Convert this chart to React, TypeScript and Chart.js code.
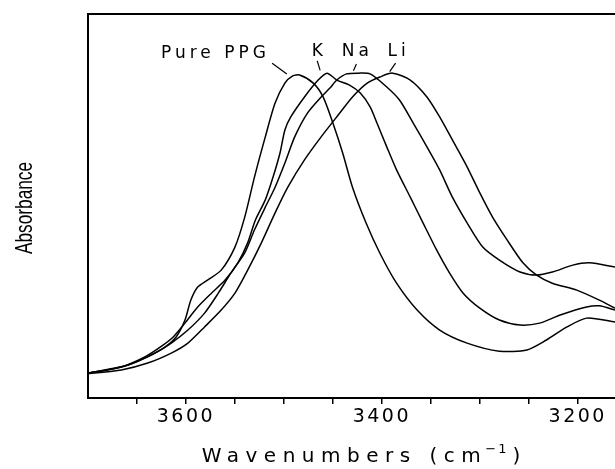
import React, { useEffect, useRef } from "react";
import { Chart, registerables } from "chart.js";

Chart.register(...registerables);

// ---- data (wavenumber in cm^-1, absorbance in arbitrary units) ----
const ppgWavenumber = [3700, 3680, 3659, 3639, 3621, 3610, 3601, 3595, 3588, 3578, 3564, 3550, 3540, 3530, 3519, 3509, 3499, 3491, 3484, 3470, 3460, 3450, 3440, 3430, 3416, 3402, 3385, 3364, 3341, 3313, 3280, 3252, 3232, 3211, 3191, 3162];
const ppgAbsorbance = [0.065, 0.073, 0.086, 0.107, 0.133, 0.159, 0.203, 0.255, 0.289, 0.307, 0.333, 0.393, 0.471, 0.576, 0.680, 0.768, 0.820, 0.839, 0.841, 0.820, 0.784, 0.716, 0.638, 0.549, 0.455, 0.377, 0.299, 0.229, 0.177, 0.143, 0.122, 0.125, 0.151, 0.185, 0.208, 0.198];

const kWavenumber = [3700, 3666, 3642, 3626, 3613, 3601, 3588, 3574, 3560, 3547, 3537, 3529, 3519, 3511, 3504, 3499, 3493, 3479, 3465, 3456, 3446, 3433, 3422, 3412, 3405, 3395, 3385, 3371, 3358, 3344, 3331, 3317, 3300, 3280, 3259, 3239, 3218, 3191, 3178, 3162];
const kAbsorbance = [0.065, 0.081, 0.107, 0.133, 0.159, 0.195, 0.237, 0.273, 0.307, 0.352, 0.404, 0.464, 0.516, 0.576, 0.638, 0.698, 0.732, 0.784, 0.828, 0.846, 0.828, 0.815, 0.794, 0.758, 0.716, 0.654, 0.594, 0.523, 0.456, 0.385, 0.326, 0.273, 0.234, 0.203, 0.190, 0.195, 0.216, 0.237, 0.240, 0.229];

const naWavenumber = [3700, 3659, 3632, 3615, 3598, 3581, 3567, 3554, 3540, 3530, 3519, 3509, 3499, 3489, 3476, 3462, 3453, 3446, 3436, 3424, 3412, 3395, 3382, 3368, 3354, 3341, 3328, 3313, 3297, 3280, 3259, 3242, 3226, 3205, 3188, 3162];
const naAbsorbance = [0.065, 0.086, 0.117, 0.143, 0.177, 0.221, 0.273, 0.326, 0.378, 0.438, 0.497, 0.549, 0.612, 0.680, 0.742, 0.784, 0.807, 0.828, 0.844, 0.846, 0.844, 0.810, 0.776, 0.716, 0.654, 0.594, 0.523, 0.456, 0.393, 0.359, 0.328, 0.320, 0.328, 0.346, 0.352, 0.341];

const liWavenumber = [3700, 3666, 3639, 3615, 3598, 3581, 3564, 3550, 3537, 3523, 3509, 3496, 3479, 3462, 3443, 3430, 3415, 3402, 3389, 3371, 3354, 3341, 3328, 3313, 3300, 3287, 3272, 3256, 3242, 3226, 3201, 3178, 3162];
const liAbsorbance = [0.063, 0.073, 0.091, 0.117, 0.143, 0.185, 0.229, 0.273, 0.333, 0.404, 0.482, 0.549, 0.620, 0.680, 0.742, 0.784, 0.820, 0.836, 0.846, 0.828, 0.784, 0.732, 0.672, 0.602, 0.534, 0.471, 0.411, 0.352, 0.320, 0.299, 0.281, 0.255, 0.234];

const seriesNames = ["Pure PPG", "K", "Na", "Li"];

const xTickValues = [3650, 3600, 3550, 3500, 3450, 3400, 3350, 3300, 3250, 3200];
const xTickLabels = [3600, 3400, 3200];

// curve label anchors in data units: text centre, leader start, leader end
const labelTextWavenumber = [3572, 3466, 3427, 3385];
const labelTextAbsorbance = [0.897, 0.903, 0.903, 0.903];
const leaderFromWavenumber = [3512, 3466, 3426, 3386];
const leaderFromAbsorbance = [0.872, 0.878, 0.870, 0.872];
const leaderToWavenumber = [3497, 3463, 3429, 3392];
const leaderToAbsorbance = [0.844, 0.853, 0.852, 0.850];

const toPoints = (xs: number[], ys: number[]) => xs.map((x, i) => ({ x, y: ys[i] }));

const decorPlugin = {
  id: "decor",
  beforeDraw(chart: any) {
    chart.ctx.letterSpacing = "2.5px";
  },
  beforeDatasetsDraw(chart: any) {
    chart.ctx.letterSpacing = "0px";
  },
  afterDraw(chart: any) {
    const ctx = chart.ctx as CanvasRenderingContext2D;
    const { left, top, right, bottom } = chart.chartArea;
    const xs = chart.scales.x;
    const ys = chart.scales.y;
    ctx.save();
    ctx.letterSpacing = "0px";
    // frame: left and top
    ctx.strokeStyle = "#000";
    ctx.lineWidth = 2;
    ctx.beginPath();
    ctx.moveTo(left, bottom);
    ctx.lineTo(left, top);
    ctx.lineTo(right + 2, top);
    ctx.stroke();

    // curve labels
    ctx.fillStyle = "#000";
    ctx.font = '17px "DejaVu Sans"';
    ctx.letterSpacing = "4px";
    ctx.textAlign = "center";
    ctx.textBaseline = "middle";
    ctx.lineWidth = 1.2;
    seriesNames.forEach((name, i) => {
      const tx = xs.getPixelForValue(labelTextWavenumber[i]);
      const ty = ys.getPixelForValue(labelTextAbsorbance[i]);
      ctx.fillText(name, tx + 2, ty);
      ctx.beginPath();
      ctx.moveTo(xs.getPixelForValue(leaderFromWavenumber[i]), ys.getPixelForValue(leaderFromAbsorbance[i]));
      ctx.lineTo(xs.getPixelForValue(leaderToWavenumber[i]), ys.getPixelForValue(leaderToAbsorbance[i]));
      ctx.stroke();
    });

    // x axis title with superscript
    const mainFont = '20px "DejaVu Sans"';
    const supFont = '13px "DejaVu Sans"';
    ctx.textAlign = "left";
    ctx.textBaseline = "alphabetic";
    ctx.letterSpacing = "6.5px";
    const part1 = "Wavenumbers (cm";
    const part2 = "\u22121";
    const part3 = ")";
    ctx.font = mainFont;
    const w1 = ctx.measureText(part1).width;
    ctx.letterSpacing = "0px";
    const w3 = ctx.measureText(part3).width;
    ctx.font = supFont;
    ctx.letterSpacing = "2px";
    const w2 = ctx.measureText(part2).width;
    const total = w1 + w2 + w3 + 4;
    let x0 = 362 - total / 2;
    const baseY = 462;
    ctx.font = mainFont;
    ctx.letterSpacing = "6.5px";
    ctx.fillText(part1, x0, baseY);
    x0 += w1 - 2;
    ctx.font = supFont;
    ctx.letterSpacing = "2px";
    ctx.fillText(part2, x0, baseY - 9);
    x0 += w2 + 4;
    ctx.font = mainFont;
    ctx.letterSpacing = "0px";
    ctx.fillText(part3, x0, baseY);

    // y axis title (condensed)
    ctx.save();
    ctx.translate(25, (top + bottom) / 2 + 2);
    ctx.rotate(-Math.PI / 2);
    ctx.scale(0.72, 1);
    ctx.font = '24px "Liberation Sans"';
    ctx.letterSpacing = "0px";
    ctx.textAlign = "center";
    ctx.textBaseline = "middle";
    ctx.fillText("Absorbance", 0, 0);
    ctx.restore();

    ctx.restore();
  },
};

export default function App() {
  const canvasRef = useRef<HTMLCanvasElement | null>(null);

  useEffect(() => {
    if (!canvasRef.current) return;
    const mk = (label: string, xs: number[], ys: number[]) => ({
      label,
      data: toPoints(xs, ys),
      borderColor: "#000",
      backgroundColor: "#000",
      borderWidth: 1.5,
      pointRadius: 0,
      tension: 0.25,
      fill: false,
    });
    const chart = new Chart(canvasRef.current, {
      type: "line",
      data: {
        datasets: [
          mk(seriesNames[0], ppgWavenumber, ppgAbsorbance),
          mk(seriesNames[1], kWavenumber, kAbsorbance),
          mk(seriesNames[2], naWavenumber, naAbsorbance),
          mk(seriesNames[3], liWavenumber, liAbsorbance),
        ],
      },
      options: {
        animation: false,
        responsive: true,
        maintainAspectRatio: false,
        layout: { padding: { left: 88, top: 14, right: 0, bottom: 0 } },
        plugins: { legend: { display: false }, tooltip: { enabled: false } },
        scales: {
          x: {
            type: "linear",
            reverse: true,
            min: 3162,
            max: 3700,
            afterBuildTicks: (s: any) => {
              s.ticks = xTickValues.map((v) => ({ value: v }));
            },
            afterFit: (s: any) => {
              s.height = 71;
            },
            ticks: {
              autoSkip: false,
              maxRotation: 0,
              minRotation: 0,
              padding: 2,
              color: "#000",
              font: { family: "DejaVu Sans", size: 19 },
              callback: (v: any) => (xTickLabels.includes(Number(v)) ? String(v) : ""),
            },
            grid: {
              drawOnChartArea: false,
              drawTicks: true,
              tickLength: 6,
              color: "#000",
              lineWidth: 1.5,
            },
            border: { display: true, color: "#000", width: 2 },
          },
          y: {
            type: "linear",
            display: false,
            min: 0,
            max: 1,
          },
        },
      },
      plugins: [decorPlugin],
    });
    return () => chart.destroy();
  }, []);

  return (
    <div style={{ position: "absolute", left: 0, top: 0, width: 615, height: 469, background: "#fff" }}>
      <canvas ref={canvasRef} />
    </div>
  );
}
